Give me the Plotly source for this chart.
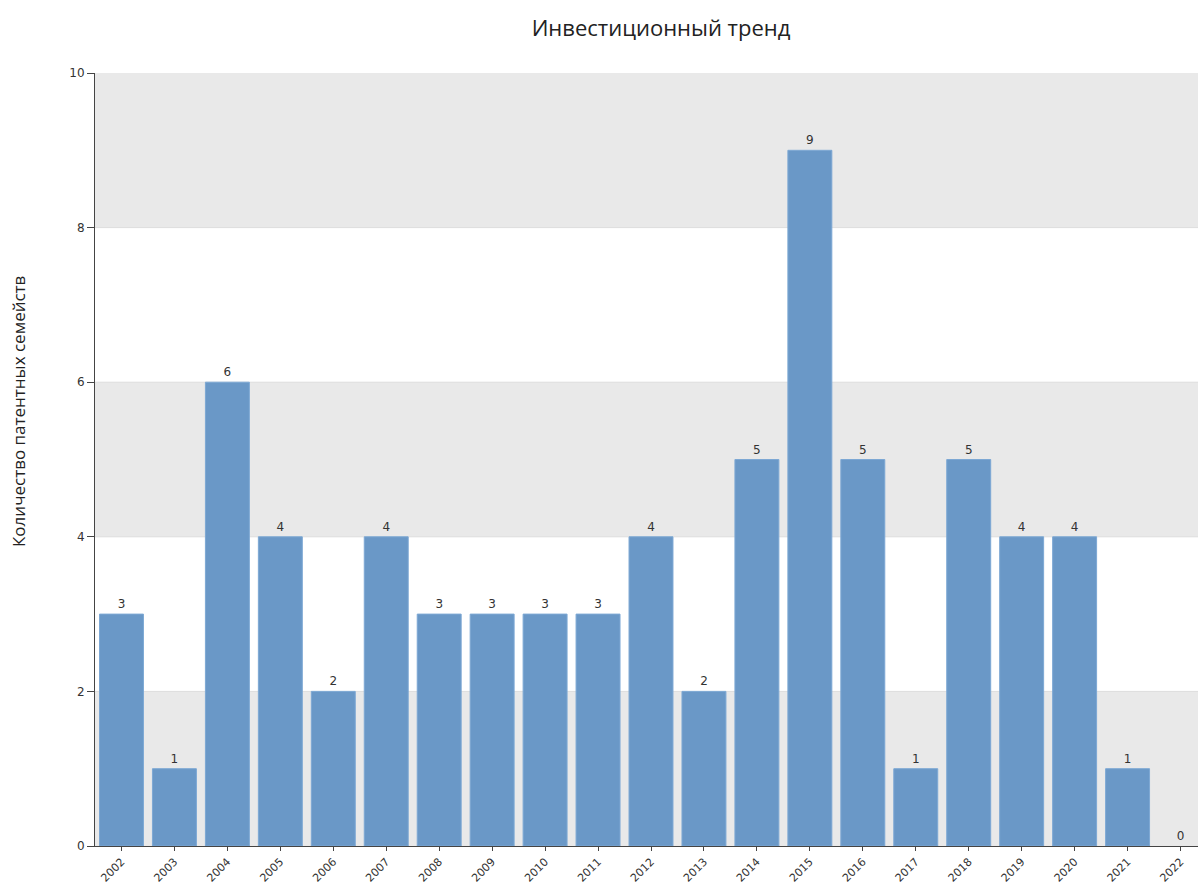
import plotly.graph_objects as go

years = ["2002", "2003", "2004", "2005", "2006", "2007", "2008", "2009", "2010", "2011",
         "2012", "2013", "2014", "2015", "2016", "2017", "2018", "2019", "2020", "2021", "2022"]
families = [3, 1, 6, 4, 2, 4, 3, 3, 3, 3, 4, 2, 5, 9, 5, 1, 5, 4, 4, 1, 0]
y_ticks = [0, 2, 4, 6, 8, 10]

W, H = 1198, 884
L, R, T, B = 95, 0, 73, 38

fig = go.Figure()

fig.add_trace(go.Bar(
    x=list(range(len(years))),
    y=families,
    text=[str(v) for v in families],
    textposition="outside",
    textfont=dict(family="DejaVu Sans", size=12, color="#333333"),
    cliponaxis=False,
    marker=dict(color="rgb(106,152,199)",
                line=dict(color="rgb(125,168,212)",
                          width=[1 if v > 0 else 0 for v in families])),
    hoverinfo="x+y",
))

# alternating horizontal bands
for lo in (0, 4, 8):
    fig.add_shape(type="rect", xref="paper", yref="y", x0=0, x1=1, y0=lo, y1=lo + 2,
                  fillcolor="#e9e9e9", line=dict(width=0), layer="below")
for g in [2, 4, 6, 8]:
    fig.add_shape(type="line", xref="paper", yref="y", x0=0, x1=1, y0=g, y1=g,
                  line=dict(color="#dddddd", width=1), layer="below")

fig.update_layout(
    width=W, height=H,
    margin=dict(l=L, r=R, t=T, b=B, autoexpand=False),
    paper_bgcolor="white", plot_bgcolor="white",
    bargap=0.17,
    showlegend=False,
    title=dict(text="Инвестиционный тренд", x=661 / W, xanchor="center",
               y=1 - 28 / H, yanchor="middle",
               font=dict(family="Open Sans", size=22, color="#222222")),
    xaxis=dict(
        tickmode="array", tickvals=list(range(len(years))), ticktext=years,
        range=[-0.5, 20.33], tickangle=-45,
        tickfont=dict(family="DejaVu Sans", size=11, color="#333333"),
        ticks="outside", ticklen=4, tickcolor="#444444",
        showline=True, linecolor="#444444", linewidth=1,
        showgrid=False, zeroline=False, automargin=False, fixedrange=True,
    ),
    yaxis=dict(
        range=[0, 10], tickvals=y_ticks,
        tickfont=dict(family="DejaVu Sans", size=12, color="#333333"),
        ticks="outside", ticklen=7, tickcolor="#444444",
        showline=True, linecolor="#444444", linewidth=1,
        showgrid=False, zeroline=False, automargin=False, fixedrange=True,
    ),
    annotations=[dict(
        text="Количество патентных семейств", textangle=-90,
        xref="paper", yref="paper",
        x=(18 - L) / (W - L - R), y=1 - (412 - T) / (H - T - B),
        xanchor="center", yanchor="middle", showarrow=False,
        font=dict(family="Open Sans", size=17, color="#222222"),
    )],
)

fig.write_html("out.html")
